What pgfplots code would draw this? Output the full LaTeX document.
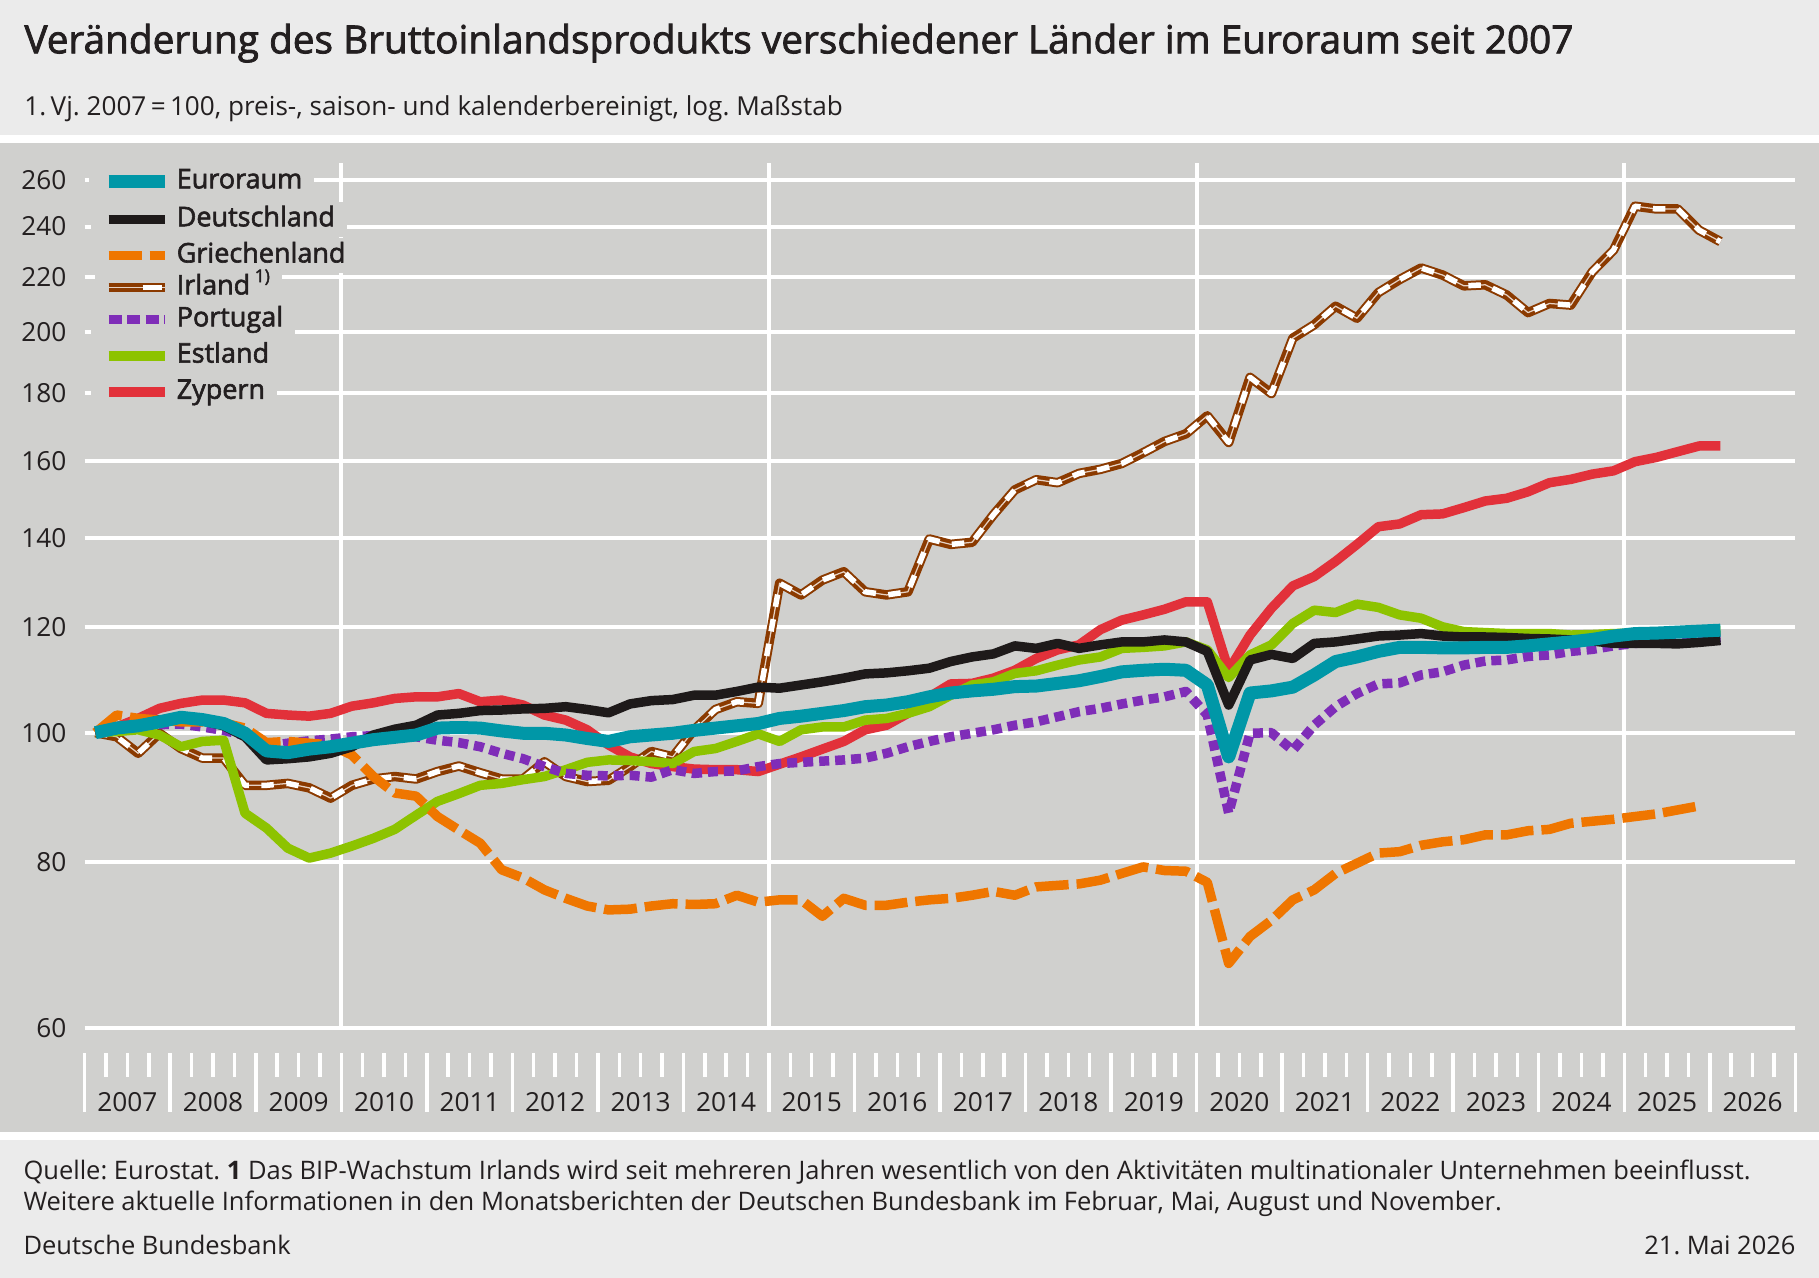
\documentclass[border=0pt]{standalone}
\usepackage{fontspec}
\setmainfont{Open Sans}
\newfontfamily\semib{Open Sans}[FakeBold=2.2]
\newfontfamily\semibt{Open Sans}[FakeBold=2]
\usepackage{pgfplots}
\usepackage{pgfplotstable}
\pgfplotsset{compat=1.18}
\frenchspacing
\definecolor{band}{HTML}{EBEBEB}
\definecolor{panel}{HTML}{D0D0CE}
\definecolor{txt}{HTML}{231F20}
\definecolor{cEA}{HTML}{0097A7}
\definecolor{cDE}{HTML}{1E1A1A}
\definecolor{cGR}{HTML}{EF7600}
\definecolor{cIE}{HTML}{8B3A00}
\definecolor{cIEp}{HTML}{E6D2C4}
\definecolor{cPT}{HTML}{7F2DB8}
\definecolor{cEE}{HTML}{8DC300}
\definecolor{cCY}{HTML}{E2313A}

\pgfplotstableread{
k ea de gr ie pt ee cy
0 100 100 100 100 100 100 100
1 100.8 100.6 103.1 99.3 100.6 100.2 101.0
2 101.2 101.3 102.5 96.5 101.2 100.5 102.5
3 101.9 102.2 102.2 99.9 101.4 99.6 104.3
4 102.7 102.6 101.9 97.3 101.5 97.6 105.2
5 102.3 102.1 101.9 95.7 101.0 98.5 105.8
6 101.6 101.2 101.7 95.7 100.4 98.7 105.8
7 99.9 99.3 100.8 91.3 99.5 87.0 105.3
8 96.9 95.4 98.3 91.3 97.7 84.8 103.4
9 96.6 95.6 98.5 91.6 98.2 81.9 103.1
10 97.2 95.9 98.2 90.9 98.6 80.5 102.9
11 97.6 96.5 97.9 89.3 98.9 81.2 103.4
12 98.2 97.6 96.2 91.3 99.3 82.2 104.7
13 98.8 99.6 92.7 92.3 99.5 83.3 105.3
14 99.2 100.6 90.1 92.7 99.5 84.6 106.1
15 99.6 101.3 89.6 92.3 99.3 86.7 106.4
16 100.8 103.1 86.5 93.5 98.7 88.8 106.4
17 100.9 103.4 84.5 94.4 98.3 90.0 107.0
18 100.8 103.9 82.6 93.3 97.6 91.3 105.5
19 100.3 104.0 78.9 92.3 96.5 91.6 105.8
20 99.9 104.2 77.8 92.3 95.6 92.2 104.9
21 99.9 104.3 76.2 95.1 94.3 92.7 103.1
22 99.6 104.6 75.1 92.7 93.2 93.8 102.2
23 99.0 104.1 74.1 91.9 92.9 95.0 100.5
24 98.5 103.5 73.6 92.1 92.8 95.4 97.9
25 99.3 105.1 73.7 94.3 92.9 95.3 95.9
26 99.6 105.7 74.1 96.8 92.6 95.1 94.8
27 99.9 105.9 74.4 95.9 93.8 94.8 94.3
28 100.4 106.7 74.3 100.5 93.2 96.8 93.9
29 100.8 106.7 74.4 104.1 93.5 97.3 93.8
30 101.2 107.4 75.5 105.5 93.6 98.5 93.8
31 101.6 108.2 74.6 105.2 94.3 99.8 93.5
32 102.5 108.0 74.9 129.5 94.8 98.5 94.7
33 102.9 108.6 74.9 126.9 95.0 100.5 95.9
34 103.4 109.2 72.8 130.2 95.2 101.0 97.2
35 103.9 109.9 75.1 132.1 95.4 101.0 98.5
36 104.6 110.7 74.2 127.6 95.7 102.2 100.5
37 104.9 110.9 74.2 126.9 96.5 102.5 101.3
38 105.5 111.3 74.6 127.6 97.6 103.4 103.4
39 106.4 111.8 74.9 139.8 98.5 104.6 106.4
40 107.1 113.1 75.1 138.5 99.3 106.7 108.8
41 107.5 114.0 75.5 139.0 99.9 108.6 108.9
42 107.8 114.6 76.0 145.8 100.5 109.2 109.9
43 108.3 116.2 75.5 152.2 101.3 110.8 111.4
44 108.4 115.7 76.6 154.9 101.9 111.3 113.7
45 108.9 116.7 76.8 154.1 102.8 112.4 115.4
46 109.4 115.7 77.0 156.6 103.7 113.4 116.4
47 110.2 116.4 77.5 157.7 104.3 114.0 119.5
48 111.1 117.0 78.4 159.3 105.1 115.7 121.5
49 111.4 117.0 79.3 162.3 105.8 115.9 122.6
50 111.6 117.4 78.8 165.5 106.4 116.2 123.8
51 111.4 117.0 78.7 167.7 107.4 117.0 125.4
52 108.6 115.1 77.2 173.0 103.1 115.4 125.4
53 95.9 104.9 67.1 165.2 87.0 110.0 111.4
54 107.1 113.4 70.3 184.9 99.9 114.4 118.4
55 107.5 114.5 72.3 179.8 100.0 116.4 124.0
56 108.2 113.7 74.9 197.9 97.0 120.8 128.9
57 110.5 116.7 76.2 202.5 101.3 123.6 131.0
58 113.1 117.0 78.4 209.1 104.6 123.1 134.5
59 114.0 117.6 79.8 204.8 107.0 124.9 138.5
60 115.1 118.2 81.2 214.1 108.8 124.2 142.8
61 115.9 118.4 81.4 219.0 109.0 122.6 143.5
62 115.9 118.7 82.3 223.4 110.5 121.9 145.8
63 115.8 118.2 82.8 220.7 111.1 120.1 146.0
64 115.8 118.0 83.1 216.6 112.4 119.1 147.6
65 115.9 118.0 83.8 217.0 113.2 118.9 149.3
66 115.9 117.9 83.8 213.2 113.4 118.7 150.0
67 116.2 117.7 84.4 206.8 114.1 118.7 151.7
68 116.6 117.6 84.6 210.1 114.4 118.7 154.1
69 117.0 117.4 85.5 209.5 115.1 118.4 155.0
70 117.5 117.2 85.8 221.9 115.5 118.5 156.4
71 118.2 116.7 86.1 230.4 116.2 118.7 157.3
72 118.7 116.7 86.5 248.6 116.7 118.8 159.8
73 118.8 116.7 86.9 247.4 117.0 119.0 161.0
74 119.0 116.6 87.5 247.4 117.3 119.1 162.6
75 119.2 116.9 88.1 238.5 117.6 119.2 164.2
76 119.4 117.3 nan 233.8 117.9 119.3 164.2
}\gdp

\pgfplotsset{
  bgimg/.style={legend image code/.code={
    \fill[panel] (-5.2pt,-7.04pt) rectangle (24pt,7.04pt);
    \draw[##1] (0pt,0pt) -- (24pt,0pt);}},
}

\begin{document}
\begin{tikzpicture}
\begin{scope}[x=0.4pt,y=-0.4pt]
\useasboundingbox (0,0) rectangle (1819,1278);
\fill[white] (0,0) rectangle (1819,1278);
\fill[band] (0,0) rectangle (1819,135);
\fill[panel] (0,143) rectangle (1819,1132);
\fill[band] (0,1140) rectangle (1819,1278);

\node[anchor=base west, inner sep=0pt, text=txt, font=\semibt\fontsize{15.5}{19}\selectfont] at (24,53.3)
  {Veränderung des Bruttoinlandsprodukts verschiedener Länder im Euroraum seit 2007};
\node[anchor=base west, inner sep=0pt, text=txt, font=\fontsize{10.45}{13}\selectfont] at (24,116)
  {1.\,Vj. 2007\,=\,100, preis-, saison- und kalenderbereinigt, log. Maßstab};

\node[anchor=base west, inner sep=0pt, text=txt, font=\fontsize{10.2}{13}\selectfont] at (23,1179.5)
  {Quelle: Eurostat. \textbf{1} Das BIP-Wachstum Irlands wird seit mehreren Jahren wesentlich von den Aktivitäten multinationaler Unternehmen beeinflusst.};
\node[anchor=base west, inner sep=0pt, text=txt, font=\fontsize{10.2}{13}\selectfont] at (23,1210.5)
  {Weitere aktuelle Informationen in den Monatsberichten der Deutschen Bundesbank im Februar, Mai, August und November.};
\node[anchor=base west, inner sep=0pt, text=txt, font=\fontsize{10.2}{13}\selectfont] at (23,1254)
  {Deutsche Bundesbank};
\node[anchor=base east, inner sep=0pt, text=txt, font=\fontsize{10.2}{13}\selectfont] at (1796,1254)
  {21. Mai 2026};
\end{scope}

\begin{axis}[
  at={(33.88pt,-444.8pt)}, anchor=south west,
  scale only axis, width=684.24pt, height=379.6pt,
  xmin=2007, xmax=2027,
  ymode=log, ymin=51.89, ymax=267.9,
  clip=false,
  axis line style={draw=none},
  xtick=\empty,
  ytick={60,80,100,120,140,160,180,200,220,240,260},
  yticklabels={60,80,100,120,140,160,180,200,220,240,260},
  major tick length=0pt,
  ymajorgrids, grid style={white, line width=1.6pt},
  yticklabel style={font=\fontsize{10.5}{12}\selectfont, text=txt, anchor=east, inner sep=0pt, xshift=-7.1pt},
  legend cell align=left,
  legend style={at={(0.00266,1.0058)}, anchor=north west, draw=none, fill=none,
    inner sep=0pt, outer sep=0pt, row sep=-3.4pt, column sep=-4.2pt,
    font=\semib\fontsize{10.8}{12}\selectfont,
    nodes={fill=panel, inner xsep=4.8pt, inner ysep=0pt, text height=7.7pt, text depth=2.3pt, minimum height=14.08pt, text=txt}},
  every axis plot/.append style={line join=round, line cap=butt},
]
% year grid lines and tick band
\pgfplotsinvokeforeach{2010,2015,2020,2025}{
  \draw[white, line width=1.6pt] (axis cs:#1,60) -- (axis cs:#1,267.9);
}
\pgfplotsinvokeforeach{2007,...,2026}{
  \draw[white, line width=1.4pt] (axis cs:#1,57.43) -- (axis cs:#1,51.89);
  \draw[white, line width=1.4pt] (axis cs:#1.25,57.43) -- (axis cs:#1.25,55.15);
  \draw[white, line width=1.4pt] (axis cs:#1.5,57.43) -- (axis cs:#1.5,55.15);
  \draw[white, line width=1.4pt] (axis cs:#1.75,57.43) -- (axis cs:#1.75,55.15);
  \node[anchor=base, inner sep=0pt, text=txt, font=\fontsize{10.5}{12}\selectfont] at (axis cs:#1.5,51.89) {#1};
}
\draw[white, line width=1.4pt] (axis cs:2027,57.43) -- (axis cs:2027,51.89);

% legend entries
\addlegendimage{bgimg, cEA, line width=5.2pt}
\addlegendentry{Euroraum}
\addlegendimage{bgimg, cDE, line width=3.8pt}
\addlegendentry{Deutschland}
\addlegendimage{bgimg, cGR, line width=3.8pt, dash pattern=on 13.2pt off 3.2pt}
\addlegendentry{Griechenland}
\addlegendimage{legend image code/.code={
    \fill[panel] (-5.2pt,-7.04pt) rectangle (24pt,7.04pt);
    \draw[cIE, line width=3.8pt] (0pt,0pt) -- (24pt,0pt);
    \draw[cIEp, line width=0.5pt] (0pt,0pt) -- (24pt,0pt);
    \draw[white, line width=2.2pt] (13.6pt,0pt) -- (21.2pt,0pt);}}
\addlegendentry{Irland\,\raisebox{0.85ex}{\fontsize{7}{8}\selectfont 1)}}
\addlegendimage{bgimg, cPT, line width=3.8pt, dash pattern=on 5.2pt off 2.2pt}
\addlegendentry{Portugal}
\addlegendimage{bgimg, cEE, line width=3.8pt}
\addlegendentry{Estland}
\addlegendimage{bgimg, cCY, line width=3.8pt}
\addlegendentry{Zypern}

% data, bottom to top
\addplot[cCY, line width=3.8pt, forget plot] table[x expr=2007.125+0.25*\thisrow{k}, y=cy]{\gdp};
\addplot[cIE, line width=3.8pt, forget plot] table[x expr=2007.125+0.25*\thisrow{k}, y=ie]{\gdp};
\addplot[cIEp, line width=0.5pt, forget plot] table[x expr=2007.125+0.25*\thisrow{k}, y=ie]{\gdp};
\addplot[white, line width=2.2pt, dash pattern=on 5pt off 5pt, forget plot] table[x expr=2007.125+0.25*\thisrow{k}, y=ie]{\gdp};
\addplot[cEE, line width=3.8pt, forget plot] table[x expr=2007.125+0.25*\thisrow{k}, y=ee]{\gdp};
\addplot[cPT, line width=3.8pt, dash pattern=on 4pt off 2.4pt, forget plot] table[x expr=2007.125+0.25*\thisrow{k}, y=pt]{\gdp};
\addplot[cGR, line width=3.8pt, dash pattern=on 13.2pt off 3.2pt, forget plot] table[x expr=2007.125+0.25*\thisrow{k}, y=gr]{\gdp};
\addplot[cDE, line width=3.8pt, forget plot] table[x expr=2007.125+0.25*\thisrow{k}, y=de]{\gdp};
\addplot[cEA, line width=5.2pt, forget plot] table[x expr=2007.125+0.25*\thisrow{k}, y=ea]{\gdp};
\end{axis}
\end{tikzpicture}
\end{document}
